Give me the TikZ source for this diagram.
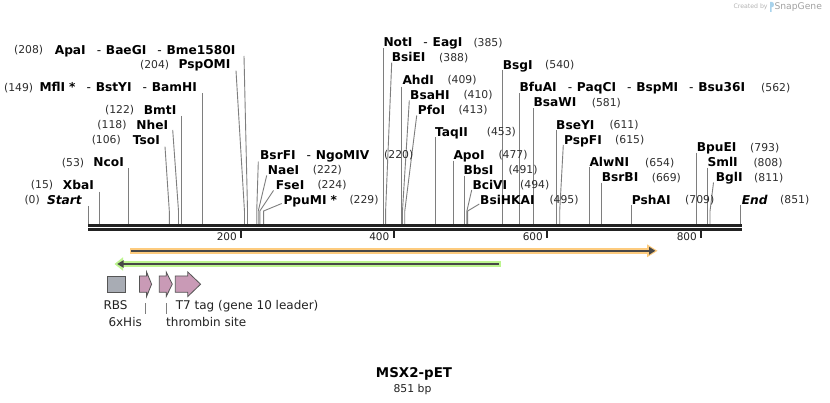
\documentclass[tikz,border=0pt]{standalone}
\usepackage{fontspec}
\setmainfont{DejaVu Sans}
\usetikzlibrary{arrows.meta}

\definecolor{sitegray}{HTML}{7E7E7E}
\definecolor{numgray}{HTML}{2E2E2E}
\definecolor{axisblack}{HTML}{222222}
\definecolor{orangeband}{HTML}{FDCB7E}
\definecolor{greenband}{HTML}{BDF58F}
\definecolor{bardark}{HTML}{474747}
\definecolor{rbsgray}{HTML}{A8ACB4}
\definecolor{featpink}{HTML}{C99AB6}
\definecolor{featline}{HTML}{555555}
\definecolor{logoblue}{HTML}{A9D3EC}
\definecolor{creditgray}{HTML}{B4B4B4}

\newcommand\sepdash{\hspace{11pt}{\mdseries -}\hspace{4.8pt}}
\newcommand\cutS[4]{% id, bp, topx, topy
  \coordinate (top#1) at (#3,#4);
  \coordinate (knee#1) at ({88+0.767*#2},211);
  \coordinate (cut#1) at ({88+0.767*#2},224);
  \draw[cutline] (top#1) -- (knee#1) -- (cut#1);}
\newcommand\cutV[3]{% id, bp, topy
  \coordinate (top#1) at ({88+0.767*#2},#3);
  \coordinate (cut#1) at ({88+0.767*#2},224);
  \draw[cutline] (top#1) -- (cut#1);}

\tikzset{
  nmR/.style={anchor=base west, inner sep=0pt, yshift=-4.3pt, font=\fontsize{12.2}{14}\selectfont\bfseries},
  nmL/.style={nmR, anchor=base east},
  numR/.style={anchor=base west, inner sep=0pt, yshift=-3.9pt, text=numgray, font=\fontsize{10.8}{13}\selectfont},
  numL/.style={numR, anchor=base east},
  cutline/.style={draw=sitegray, line width=0.9pt},
  axisline/.style={draw=axisblack, line width=3pt},
  tickline/.style={draw=axisblack, line width=2pt},
  ticklab/.style={anchor=base east, inner sep=0pt, yshift=-3.8pt, text=axisblack, font=\fontsize{10.5}{12}\selectfont},
  feat/.style={draw=featline, line width=0.8pt, fill=featpink},
  featlab/.style={anchor=base west, inner sep=0pt, yshift=-4.4pt, text=axisblack, font=\fontsize{12}{14}\selectfont},
  featmark/.style={draw=sitegray, line width=0.8pt},
}

\begin{document}
\begin{tikzpicture}[x=1pt,y=-1pt]
\useasboundingbox (0,0) rectangle (830,403);
\fill[white] (0,0) rectangle (830,403);

% ---- credit
\node[anchor=base west, inner sep=0pt, text=creditgray, font=\fontsize{6.2}{7}\selectfont] (credit) at (733.3,9) {Created by};
\fill[logoblue] (770,2) -- (772,2) .. controls (774.6,2) and (774.6,7.2) .. (772,7.2) -- (771.6,7.2) -- (771.6,12) -- (770,12) -- cycle;
\node[anchor=base west, inner sep=0pt, text=creditgray!90!black, font=\fontsize{9.2}{10}\selectfont] (snapgene) at (774.3,10) {SnapGene};

% ---- cut-site lines
\cutV{0}{0}{206}
\cutV{15}{15}{191.7}
\cutV{53}{53}{168.3}
\cutS{106}{106}{165}{146.7}
\cutS{118}{118}{172.7}{130}
\cutV{122}{122}{116}
\cutV{149}{149}{93.3}
\cutS{204}{204}{236}{70.7}
\cutS{208}{208}{244}{56}
\cutS{220}{220}{258.3}{161.7}
\cutS{222}{222}{266.7}{175.5}
\cutS{224}{224}{273.5}{190.5}
\cutS{229}{229}{281.7}{203.5}
\cutV{385}{385}{48.3}
\cutS{388}{388}{391.7}{62.7}
\cutV{409}{409}{86.7}
\cutS{410}{410}{409.3}{100.5}
\cutS{413}{413}{416.7}{115.5}
\cutV{453}{453}{137.3}
\cutV{477}{477}{160.7}
\cutV{491}{491}{176}
\cutS{494}{494}{471.7}{190}
\cutS{495}{495}{479.3}{204}
\cutV{540}{540}{70}
\cutV{562}{562}{93.3}
\cutV{581}{581}{108.3}
\cutV{611}{611}{130}
\cutS{615}{615}{563.3}{145}
\cutV{654}{654}{167.3}
\cutV{669}{669}{182.7}
\cutV{709}{709}{205}
\cutV{793}{793}{152.7}
\cutV{808}{808}{167.7}
\cutS{811}{811}{713.5}{182.5}
\cutV{851}{851}{205}

% ---- left-side labels
\node[numL] (n0) at (40,200) {(0)};
\node[nmL, font=\fontsize{12.2}{14}\selectfont\bfseries\itshape] (t0) at (82,200) {Start};
\node[numL] (n15) at (53.3,185) {(15)};
\node[nmL] (t15) at (94,185) {XbaI};
\node[numL] (n53) at (84.3,162.3) {(53)};
\node[nmL] (t53) at (124,162.3) {NcoI};
\node[numL] (n106) at (121,140) {(106)};
\node[nmL] (t106) at (160,140) {TsoI};
\node[numL] (n118) at (126.7,125) {(118)};
\node[nmL] (t118) at (168.3,125) {NheI};
\node[numL] (n122) at (134.3,110) {(122)};
\node[nmL] (t122) at (176.5,110) {BmtI};
\node[numL] (n149) at (33.3,87.3) {(149)};
\node[nmL] (t149) at (197,87.3) {MflI\hspace{4pt}*\sepdash BstYI\sepdash BamHI};
\node[numL] (n204) at (169.3,64.3) {(204)};
\node[nmL] (t204) at (230.5,64.3) {PspOMI};
\node[numL] (n208) at (43.3,50) {(208)};
\node[nmL] (t208) at (235.5,50) {ApaI\sepdash BaeGI\sepdash Bme1580I};

% ---- right-side labels
\node[nmR] (t220) at (260,155) {BsrFI\sepdash NgoMIV};
\node[numR] (n220) at (384,155) {(220)};
\node[nmR] (t222) at (267.7,170) {NaeI};
\node[numR] (n222) at (312.7,170) {(222)};
\node[nmR] (t224) at (275.7,185) {FseI};
\node[numR] (n224) at (317.3,185) {(224)};
\node[nmR] (t229) at (283.3,200) {PpuMI\hspace{4pt}*};
\node[numR] (n229) at (349.3,200) {(229)};
\node[nmR] (t385) at (383.3,42.7) {NotI\sepdash EagI};
\node[numR] (n385) at (473.3,42.7) {(385)};
\node[nmR] (t388) at (391.7,57.7) {BsiEI};
\node[numR] (n388) at (439,57.7) {(388)};
\node[nmR] (t409) at (402.3,80) {AhdI};
\node[numR] (n409) at (447.3,80) {(409)};
\node[nmR] (t410) at (410,95) {BsaHI};
\node[numR] (n410) at (463.3,95) {(410)};
\node[nmR] (t413) at (417.7,110) {PfoI};
\node[numR] (n413) at (458.3,110) {(413)};
\node[nmR] (t453) at (435,132) {TaqII};
\node[numR] (n453) at (486.7,132) {(453)};
\node[nmR] (t477) at (453.3,155) {ApoI};
\node[numR] (n477) at (498.3,155) {(477)};
\node[nmR] (t491) at (463.3,170) {BbsI};
\node[numR] (n491) at (508.3,170) {(491)};
\node[nmR] (t494) at (472.3,185) {BciVI};
\node[numR] (n494) at (520,185) {(494)};
\node[nmR] (t495) at (480,200) {BsiHKAI};
\node[numR] (n495) at (549.3,200) {(495)};
\node[nmR] (t540) at (502.7,65) {BsgI};
\node[numR] (n540) at (545,65) {(540)};
\node[nmR] (t562) at (519.3,87.3) {BfuAI\sepdash PaqCI\sepdash BspMI\sepdash Bsu36I};
\node[numR] (n562) at (761,87.3) {(562)};
\node[nmR] (t581) at (533.3,102.3) {BsaWI};
\node[numR] (n581) at (591.7,102.3) {(581)};
\node[nmR] (t611) at (556,125) {BseYI};
\node[numR] (n611) at (609.3,125) {(611)};
\node[nmR] (t615) at (564,140) {PspFI};
\node[numR] (n615) at (615,140) {(615)};
\node[nmR] (t654) at (589.3,162.3) {AlwNI};
\node[numR] (n654) at (645,162.3) {(654)};
\node[nmR] (t669) at (601.7,177.3) {BsrBI};
\node[numR] (n669) at (651.7,177.3) {(669)};
\node[nmR] (t709) at (631.7,200) {PshAI};
\node[numR] (n709) at (685,200) {(709)};
\node[nmR] (t793) at (696.7,147.3) {BpuEI};
\node[numR] (n793) at (750,147.3) {(793)};
\node[nmR] (t808) at (707.3,162.3) {SmlI};
\node[numR] (n808) at (753.3,162.3) {(808)};
\node[nmR] (t811) at (715.7,177.3) {BglI};
\node[numR] (n811) at (754,177.3) {(811)};
\node[nmR, font=\fontsize{12.2}{14}\selectfont\bfseries\itshape] (t851) at (741.7,200) {End};
\node[numR] (n851) at (780,200) {(851)};

% ---- sequence axis
\coordinate (axL) at (88,0);
\coordinate (axR) at (742,0);
\draw[axisline] (88,225.5) -- (742,225.5);
\draw[axisline] (88,229.5) -- (742,229.5);
\foreach \tx/\tl in {241/200, 393.5/400, 547/600, 701/800}{
  \draw[tickline] (\tx,231) -- (\tx,238);
  \node[ticklab] (tick\tl) at (\tx-4,237) {\tl};
}

% ---- ORF bars
\fill[orangeband] (129.5,247.6) rectangle (650,254);
\fill[orangeband] (647,244.3) -- (657.5,250.8) -- (647,257.3) -- cycle;
\draw[bardark, line width=2pt] (131,250.8) -- (650,250.8);
\fill[bardark] (649,246.8) -- (655.3,250.8) -- (649,254.8) -- cycle;

\fill[greenband] (121,261) rectangle (501,267);
\fill[greenband] (123,257.3) -- (114.5,264) -- (123,270.7) -- cycle;
\draw[bardark, line width=2pt] (121,264) -- (499,264);
\fill[bardark] (123.5,260.2) -- (117.3,264) -- (123.5,267.8) -- cycle;

% ---- features
\node[draw=featline, line width=0.8pt, fill=rbsgray, minimum width=18pt, minimum height=16.3pt, inner sep=0pt] (rbs) at (116.4,284.2) {};
\draw[feat] (139.5,276) -- (146.6,276) -- (146.6,272) -- (151.6,284.2) -- (146.6,296.5) -- (146.6,292.3) -- (139.5,292.3) -- cycle;
\draw[feat] (159.3,276) -- (166.2,276) -- (166.2,272) -- (172.3,284.2) -- (166.2,296.5) -- (166.2,292.3) -- (159.3,292.3) -- cycle;
\draw[feat] (175.3,276) -- (187.8,276) -- (187.8,272) -- (200.6,284.2) -- (187.8,296.5) -- (187.8,292.3) -- (175.3,292.3) -- cycle;

\node[featlab] (lrbs) at (103.3,305) {RBS};
\node[featlab] (lhis) at (108.3,321.7) {6xHis};
\node[featlab] (lt7) at (175.7,305) {T7 tag (gene 10 leader)};
\node[featlab] (lthr) at (166,321.7) {thrombin site};
\coordinate (mk1a) at (145.3,303.5); \coordinate (mk1b) at (145.3,314.3);
\coordinate (mk2a) at (166.3,303.5); \coordinate (mk2b) at (166.3,314.3);
\draw[featmark] (mk1a) -- (mk1b);
\draw[featmark] (mk2a) -- (mk2b);

% ---- title
\node[anchor=base, inner sep=0pt, text=black, font=\fontsize{13.4}{15}\selectfont\bfseries] (title) at (414,377) {MSX2-pET};
\node[anchor=base, inner sep=0pt, text=axisblack, font=\fontsize{10.8}{12}\selectfont] (size) at (412.5,392) {851 bp};
\end{tikzpicture}
\end{document}
